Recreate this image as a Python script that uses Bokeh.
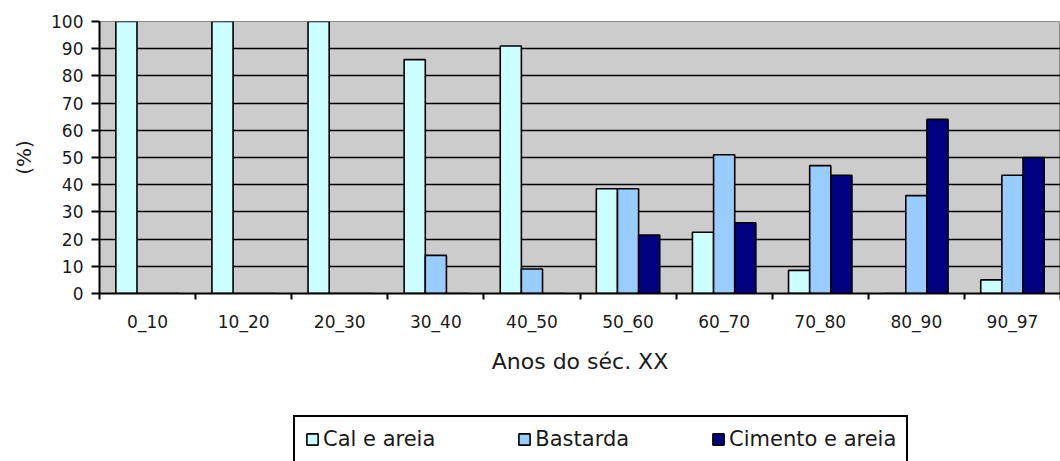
from bokeh.plotting import figure
from bokeh.layouts import column
from bokeh.models import (Range1d, LinearAxis, FixedTicker,
                          Legend, LegendItem, ColumnDataSource)
from bokeh.transform import dodge
from bokeh.embed import file_html
from bokeh.resources import INLINE

# ---- data ----
categories = ["0_10", "10_20", "20_30", "30_40", "40_50", "50_60", "60_70", "70_80", "80_90", "90_97"]
cal_e_areia = [100, 100, 100, 86, 91, 38.5, 22.5, 8.5, 0, 5]
bastarda = [0, 0, 0, 14, 9, 38.5, 51, 47, 36, 43.5]
cimento_e_areia = [0, 0, 0, 0, 0, 21.5, 26, 43.5, 64, 50]
y_ticks = [0, 10, 20, 30, 40, 50, 60, 70, 80, 90, 100]
series_names = ["Cal e areia", "Bastarda", "Cimento e areia"]
series_colors = ["#CCFFFF", "#99CCFF", "#000080"]

FONT = "DejaVu Sans"
TXT = "#1a1a1a"

n = len(categories)
centers = [i + 0.5 for i in range(n)]
bounds = list(range(n + 1))

src = ColumnDataSource(dict(x=centers, cat=categories, cal=cal_e_areia,
                            bas=bastarda, cim=cimento_e_areia))

p = figure(width=1060, height=400,
           x_range=Range1d(0, n),
           y_range=Range1d(0, 100),
           output_backend="svg", toolbar_location=None,
           x_axis_location=None,
           min_border_left=99, min_border_right=0, min_border_top=21, min_border_bottom=107)

p.background_fill_color = "#CCCCCC"
p.border_fill_color = "white"
p.outline_line_color = "#8a8a8a"
p.outline_line_width = 1

# grid
p.xgrid.grid_line_color = None
p.ygrid.ticker = FixedTicker(ticks=y_ticks[1:-1])
p.ygrid.grid_line_color = "black"
p.ygrid.grid_line_width = 1.6

# y axis
ya = p.yaxis[0]
ya.ticker = FixedTicker(ticks=y_ticks)
ya.axis_line_width = 2
ya.major_tick_line_width = 2
ya.major_tick_out = 8
ya.major_tick_in = 0
ya.minor_tick_line_color = None
ya.major_label_standoff = 8
ya.major_label_text_font = FONT
ya.major_label_text_font_size = "17px"
ya.major_label_text_color = TXT
ya.axis_label = "(%)"
ya.axis_label_text_font = FONT
ya.axis_label_text_font_size = "20px"
ya.axis_label_text_font_style = "normal"
ya.axis_label_text_color = TXT
ya.axis_label_standoff = 12

# x axis: tick marks at category boundaries
tax = LinearAxis(ticker=FixedTicker(ticks=bounds),
                 major_label_overrides={b: "" for b in bounds},
                 major_label_text_font_size="1px", major_label_standoff=0,
                 major_tick_out=6, major_tick_in=0, major_tick_line_width=2,
                 minor_tick_line_color=None, axis_line_width=2, axis_line_color="black")
p.add_layout(tax, "below")

# x axis: category labels at centers
cax = LinearAxis(ticker=FixedTicker(ticks=centers),
                 major_label_overrides={c: lab for c, lab in zip(centers, categories)},
                 axis_line_color=None, major_tick_line_color=None,
                 minor_tick_line_color=None,
                 major_tick_out=0, major_tick_in=0,
                 major_label_standoff=12,
                 major_label_text_font=FONT, major_label_text_font_size="17px",
                 major_label_text_color=TXT,
                 axis_label="Anos do séc. XX", axis_label_text_font=FONT,
                 axis_label_text_font_size="22px", axis_label_text_font_style="normal",
                 axis_label_text_color=TXT, axis_label_standoff=14)
p.add_layout(cax, "below")

# bars
W = 0.22
cols = ["cal", "bas", "cim"]
offsets = [-W, 0, W]
for col, color, off in zip(cols, series_colors, offsets):
    p.vbar(x=dodge("x", off), top=col, width=W, source=src,
           fill_color=color, line_color="black", line_width=1.6)

# legend strip (separate figure below the chart)
lf = figure(width=1060, height=61, x_range=Range1d(0, 1), y_range=Range1d(0, 1),
            x_axis_location=None, y_axis_location=None,
            output_backend="svg", toolbar_location=None,
            min_border_left=0, min_border_right=0, min_border_top=0, min_border_bottom=0)
lf.outline_line_color = None
lf.grid.visible = False
lf.background_fill_color = "white"
proxy = ColumnDataSource(dict(x=[0.5], y=[0.5]))
items = []
for name, color in zip(series_names, series_colors):
    # zero-size proxy glyph, hidden under the legend box; only its legend swatch shows
    r = lf.vbar(x="x", top="y", bottom="y", width=0, source=proxy,
                fill_color=color, line_color="black", line_width=1.6, line_alpha=1)
    items.append(LegendItem(label=name, renderers=[r]))

legend = Legend(items=items, orientation="horizontal", location=(194, -2),
                margin=0, padding=10, spacing=82, label_standoff=4,
                glyph_width=14, glyph_height=14,
                label_text_font=FONT, label_text_font_size="21px", label_text_color=TXT,
                border_line_color="black", border_line_width=2, border_line_alpha=1,
                background_fill_color="white", background_fill_alpha=1)
lf.add_layout(legend, "center")

layout = column(p, lf, spacing=0)
open("out.html", "w").write(file_html(layout, INLINE))
